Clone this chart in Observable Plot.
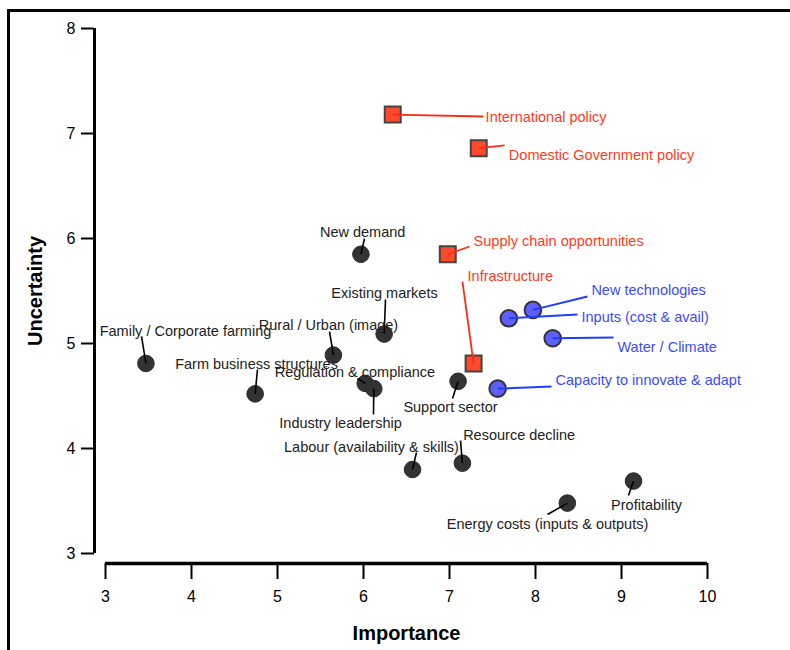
<!DOCTYPE html>
<html>
<head>
<meta charset="utf-8">
<script src="https://cdn.jsdelivr.net/npm/d3@7"></script>
<script src="https://cdn.jsdelivr.net/npm/@observablehq/plot@0.6"></script>
<style>
  html, body { margin: 0; padding: 0; overflow: hidden; background: #fff; width: 790px; height: 650px; }
  #frame { position: absolute; left: 7px; top: 9px; width: 800px; height: 700px;
           border-left: 3px solid #000; border-top: 3px solid #000; box-sizing: border-box; }
  #chart { position: absolute; left: 0; top: 0; }
</style>
</head>
<body>
<div id="frame"></div>
<div id="chart"></div>
<script>
// ---- data ----
const names = [
  "International policy", "Domestic Government policy", "Supply chain opportunities", "Infrastructure",
  "New technologies", "Inputs (cost & avail)", "Water / Climate", "Capacity to innovate & adapt",
  "New demand", "Existing markets", "Rural / Urban (image)", "Family / Corporate farming",
  "Farm business structures", "Regulation & compliance", "Industry leadership", "Support sector",
  "Labour (availability & skills)", "Resource decline", "Energy costs (inputs & outputs)", "Profitability"
];
const importance = [6.34, 7.34, 6.98, 7.28, 7.97, 7.69, 8.20, 7.56, 5.97, 6.24, 5.65, 3.47, 4.74, 6.02, 6.12, 7.10, 6.57, 7.15, 8.37, 9.14];
const uncertainty = [7.18, 6.86, 5.85, 4.81, 5.32, 5.24, 5.05, 4.57, 5.85, 5.09, 4.89, 4.81, 4.52, 4.62, 4.57, 4.64, 3.80, 3.86, 3.48, 3.69];
const groups = [
  "policy", "policy", "policy", "policy",
  "innovation", "innovation", "innovation", "innovation",
  "other", "other", "other", "other", "other", "other", "other", "other", "other", "other", "other", "other"
];
// label annotation anchor (data units) and leader-line end (data units)
const labelImportance = [7.42, 7.69, 7.28, 7.21, 8.65, 8.535, 8.953, 8.233, 5.99, 6.244, 5.593, 3.93, 4.756, 5.90, 5.733, 7.012, 6.093, 7.81, 8.14, 9.291];
const labelUncertainty = [7.152, 6.79, 5.971, 5.638, 5.505, 5.248, 4.962, 4.648, 6.057, 5.476, 5.171, 5.114, 4.80, 4.724, 4.238, 4.39, 4.01, 4.124, 3.276, 3.457];
const leaderImportance = [7.395, 7.64, 7.233, 7.151, 8.605, 8.488, 8.907, 8.186, 6.012, 6.256, 5.605, 3.419, 4.767, 5.93, 6.116, 7.035, 6.616, 7.128, 8.14, 9.081];
const leaderUncertainty = [7.162, 6.886, 5.924, 5.59, 5.448, 5.276, 5.057, 4.59, 6.0, 5.419, 5.114, 5.067, 4.752, 4.667, 4.324, 4.476, 3.962, 4.076, 3.371, 3.552];
const xTicks = [3, 4, 5, 6, 7, 8, 9, 10];
const yTicks = [3, 4, 5, 6, 7, 8];
const xTitle = "Importance";
const yTitle = "Uncertainty";

// ---- build table ----
const rows = names.map((n, i) => ({
  name: n, x: importance[i], y: uncertainty[i], group: groups[i],
  lx: labelImportance[i], ly: labelUncertainty[i],
  ex: leaderImportance[i], ey: leaderUncertainty[i]
}));
const policy = rows.filter(d => d.group === "policy");
const innov = rows.filter(d => d.group === "innovation");
const other = rows.filter(d => d.group === "other");

const RED_FILL = "#ff4a2e", RED_LINE = "#ff2c12", RED_TEXT = "#ff3a1c";
const BLUE_FILL = "#5f5fff", BLUE_LINE = "#1f3dff", BLUE_TEXT = "#3a4cff";
const DARK = "#333333";
const xDom = [xTicks[0], xTicks[xTicks.length - 1]];
const yDom = [yTicks[0], yTicks[yTicks.length - 1]];

const chart = Plot.plot({
  width: 790,
  height: 650,
  marginLeft: 105,
  marginRight: 83,
  marginTop: 28,
  marginBottom: 97,
  style: { fontFamily: "'Liberation Sans', Arial, Helvetica, sans-serif", fontSize: "16px", color: "#000", background: "transparent" },
  x: { domain: xDom },
  y: { domain: yDom },
  marks: [
    // axis lines (offset style)
    Plot.ruleX([{ x: xDom[0], y1: yDom[0], y2: yDom[1] }], { x: "x", y1: "y1", y2: "y2", dx: -11, stroke: "#000", strokeWidth: 3 }),
    Plot.ruleY([{ y: yDom[0], x1: xDom[0], x2: xDom[1] }], { y: "y", x1: "x1", x2: "x2", dy: 10, stroke: "#000", strokeWidth: 3.5 }),
    Plot.axisY({ ticks: yTicks, tickSize: 13, tickPadding: 6, dx: -11, label: null, fontSize: 16, strokeWidth: 2, tickFormat: d => String(d) }),
    Plot.axisX({ ticks: xTicks, tickSize: 16, tickPadding: 11, dy: 10, label: null, fontSize: 16, strokeWidth: 2, tickFormat: d => String(d) }),
    // axis titles
    Plot.text([xTitle], { frameAnchor: "bottom", lineAnchor: "middle", textAnchor: "middle", dy: 80, fontWeight: "bold", fontSize: 20, fill: "#000" }),
    Plot.text([yTitle], { frameAnchor: "left", lineAnchor: "middle", textAnchor: "middle", dx: -70, rotate: -90, fontWeight: "bold", fontSize: 20, fill: "#000" }),
    // points
    Plot.dot(other, { x: "x", y: "y", r: 8.3, fill: DARK, stroke: "#2a2a2a", strokeWidth: 1 }),
    Plot.dot(innov, { x: "x", y: "y", r: 8.3, fill: BLUE_FILL, stroke: DARK, strokeWidth: 2 }),
    Plot.dot(policy, { x: "x", y: "y", r: 9, symbol: "square", fill: RED_FILL, stroke: "#444", strokeWidth: 2 }),
    // leader lines
    Plot.link(other, { x1: "x", y1: "y", x2: "ex", y2: "ey", stroke: "#000", strokeWidth: 1.6 }),
    Plot.link(innov, { x1: "x", y1: "y", x2: "ex", y2: "ey", stroke: BLUE_LINE, strokeWidth: 2 }),
    Plot.link(policy, { x1: "x", y1: "y", x2: "ex", y2: "ey", stroke: RED_LINE, strokeWidth: 1.8 }),
    // labels
    Plot.text(other, { x: "lx", y: "ly", text: "name", textAnchor: "middle", fill: "#222", fontSize: 14.5 }),
    Plot.text(innov, { x: "lx", y: "ly", text: "name", textAnchor: "start", fill: BLUE_TEXT, fontSize: 14.5 }),
    Plot.text(policy, { x: "lx", y: "ly", text: "name", textAnchor: "start", fill: RED_TEXT, fontSize: 14.5 })
  ]
});
document.getElementById("chart").appendChild(chart);
</script>
</body>
</html>
